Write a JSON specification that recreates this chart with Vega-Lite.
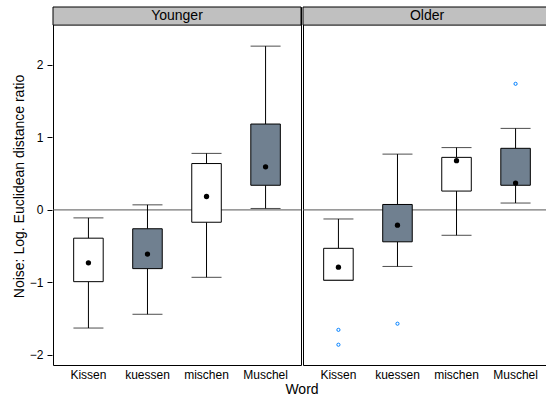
{
  "$schema": "https://vega.github.io/schema/vega-lite/v6.json",
  "background": "white",
  "padding": {"left": 12, "top": 6, "right": 0, "bottom": 0},
  "data": {"values": [
    {"kind": "box", "Age": "Younger", "Word": "Kissen", "lower": -1.63, "q1": -0.99, "median": -0.73, "q3": -0.39, "upper": -0.11},
    {"kind": "box", "Age": "Younger", "Word": "kuessen", "lower": -1.44, "q1": -0.81, "median": -0.61, "q3": -0.26, "upper": 0.07},
    {"kind": "box", "Age": "Younger", "Word": "mischen", "lower": -0.93, "q1": -0.17, "median": 0.185, "q3": 0.64, "upper": 0.78},
    {"kind": "box", "Age": "Younger", "Word": "Muschel", "lower": 0.02, "q1": 0.34, "median": 0.595, "q3": 1.185, "upper": 2.26},
    {"kind": "box", "Age": "Older", "Word": "Kissen", "lower": -0.97, "q1": -0.97, "median": -0.79, "q3": -0.53, "upper": -0.125},
    {"kind": "box", "Age": "Older", "Word": "kuessen", "lower": -0.78, "q1": -0.44, "median": -0.21, "q3": 0.075, "upper": 0.77},
    {"kind": "box", "Age": "Older", "Word": "mischen", "lower": -0.35, "q1": 0.26, "median": 0.68, "q3": 0.725, "upper": 0.86},
    {"kind": "box", "Age": "Older", "Word": "Muschel", "lower": 0.095, "q1": 0.34, "median": 0.37, "q3": 0.85, "upper": 1.125},
    {"kind": "outlier", "Age": "Older", "Word": "Kissen", "value": -1.655},
    {"kind": "outlier", "Age": "Older", "Word": "Kissen", "value": -1.86},
    {"kind": "outlier", "Age": "Older", "Word": "kuessen", "value": -1.57},
    {"kind": "outlier", "Age": "Older", "Word": "Muschel", "value": 1.74},
    {"kind": "strip", "Age": "Younger"},
    {"kind": "strip", "Age": "Older"}
  ]},
  "facet": {
    "column": {
      "field": "Age",
      "type": "nominal",
      "sort": ["Younger", "Older"],
      "header": {
        "labels": false,
        "title": "Word",
        "titleOrient": "bottom",
        "titleFont": "Liberation Sans",
        "titleFontSize": 14,
        "titleFontWeight": "normal",
        "titleColor": "black",
        "titlePadding": -7
      }
    }
  },
  "spacing": 0,
  "spec": {
    "width": 248,
    "height": 358,
    "encoding": {
      "x": {
        "field": "Word",
        "type": "nominal",
        "sort": ["Kissen", "kuessen", "mischen", "Muschel"],
        "scale": {"domain": ["Kissen", "kuessen", "mischen", "Muschel"], "paddingInner": 0.5, "paddingOuter": 0.35},
        "axis": {"title": null, "labelAngle": 0, "ticks": false, "domain": false, "labelFont": "Liberation Sans", "labelFontSize": 12, "labelColor": "black", "labelPadding": 3}
      }
    },
    "layer": [
      {
        "transform": [{"filter": "datum.kind === 'strip'"}],
        "mark": {"type": "rule", "color": "#555555", "strokeWidth": 1},
        "encoding": {"x": null, "y": {"datum": 0, "type": "quantitative"}}
      },
      {
        "transform": [{"filter": "datum.kind === 'box'"}],
        "mark": {"type": "rule", "color": "black", "strokeWidth": 1},
        "encoding": {
          "y": {"field": "lower", "type": "quantitative",
            "scale": {"domain": [-2.14, 2.8], "nice": false, "zero": false},
            "axis": {"title": "Noise: Log. Euclidean distance ratio", "values": [-2, -1, 0, 1, 2], "format": "d", "grid": false, "domain": false, "ticks": true, "tickColor": "black", "tickSize": 5, "labelFont": "Liberation Sans", "labelFontSize": 12, "labelColor": "black", "labelPadding": 4, "titleFont": "Liberation Sans", "titleFontSize": 14, "titleFontWeight": "normal", "titleColor": "black", "titlePadding": 3}},
          "y2": {"field": "q1"}
        }
      },
      {
        "transform": [{"filter": "datum.kind === 'box'"}],
        "mark": {"type": "rule", "color": "black", "strokeWidth": 1},
        "encoding": {"y": {"field": "q3", "type": "quantitative"}, "y2": {"field": "upper"}}
      },
      {
        "transform": [{"filter": "datum.kind === 'box'"}],
        "mark": {"type": "tick", "color": "black", "size": 30, "thickness": 1},
        "encoding": {"y": {"field": "lower", "type": "quantitative"}}
      },
      {
        "transform": [{"filter": "datum.kind === 'box'"}],
        "mark": {"type": "tick", "color": "black", "size": 30, "thickness": 1},
        "encoding": {"y": {"field": "upper", "type": "quantitative"}}
      },
      {
        "transform": [{"filter": "datum.kind === 'box'"}],
        "mark": {"type": "bar", "stroke": "black", "strokeWidth": 1},
        "encoding": {
          "y": {"field": "q1", "type": "quantitative"},
          "y2": {"field": "q3"},
          "fill": {"field": "Word", "type": "nominal", "scale": {"domain": ["Kissen", "kuessen", "mischen", "Muschel"], "range": ["white", "#708090", "white", "#708090"]}, "legend": null}
        }
      },
      {
        "transform": [{"filter": "datum.kind === 'box'"}],
        "mark": {"type": "point", "filled": true, "color": "black", "size": 28, "opacity": 1},
        "encoding": {"y": {"field": "median", "type": "quantitative"}}
      },
      {
        "transform": [{"filter": "datum.kind === 'outlier'"}],
        "mark": {"type": "point", "filled": false, "color": "#0080ff", "size": 10, "strokeWidth": 1, "opacity": 1},
        "encoding": {"y": {"field": "value", "type": "quantitative"}}
      },
      {
        "transform": [{"filter": "datum.kind === 'strip'"}],
        "mark": {"type": "rect", "fill": "#c0c0c0", "stroke": "black", "strokeWidth": 1},
        "encoding": {"x": null, "y": {"datum": 2.55, "type": "quantitative"}, "y2": {"datum": 2.8}}
      },
      {
        "transform": [{"filter": "datum.kind === 'strip'"}],
        "mark": {"type": "text", "font": "Liberation Sans", "fontSize": 14, "color": "black", "baseline": "middle", "align": "center"},
        "encoding": {"x": null, "y": {"datum": 2.675, "type": "quantitative"}, "text": {"field": "Age"}}
      }
    ]
  },
  "config": {
    "view": {"stroke": "black", "strokeWidth": 1}
  }
}
